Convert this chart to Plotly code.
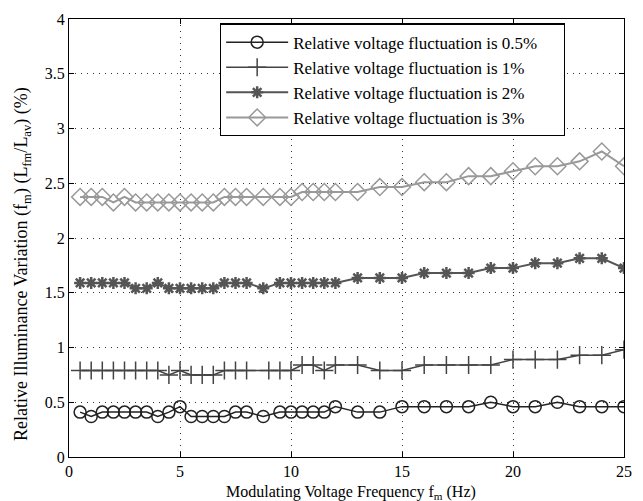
import plotly.graph_objects as go

# Modulating frequencies (Hz)
freq = [0.5, 1, 1.5, 2, 2.5, 3, 3.5, 4, 4.5, 5, 5.5, 6, 6.5, 7, 7.5, 8,
        8.75, 9.5, 10, 10.5, 11, 11.5, 12,
        13, 14, 15, 16, 17, 18, 19, 20, 21, 22, 23, 24, 25]
freq_1pct = [0.5, 1, 1.5, 2, 2.5, 3, 3.5, 4, 4.5, 5, 5.5, 6, 6.5, 7, 7.5, 8,
             9, 9.5, 10, 10.5, 11, 11.5, 12,
             13, 14, 15, 16, 17, 18, 19, 20, 21, 22, 23, 24, 25]

# Relative illuminance variation (%) per voltage fluctuation level
var_05 = [0.41, 0.37, 0.41, 0.41, 0.41, 0.41, 0.41, 0.37, 0.41, 0.46, 0.37, 0.37,
          0.37, 0.37, 0.41, 0.41, 0.37, 0.41, 0.41, 0.41, 0.41, 0.41, 0.46,
          0.41, 0.41, 0.46, 0.46, 0.46, 0.46, 0.50, 0.46, 0.46, 0.50, 0.46, 0.46, 0.46]
var_1 = [0.79, 0.79, 0.79, 0.79, 0.79, 0.79, 0.79, 0.79, 0.75, 0.79, 0.75, 0.75,
         0.75, 0.79, 0.79, 0.79, 0.79, 0.79, 0.79, 0.84, 0.84, 0.79, 0.84,
         0.84, 0.79, 0.79, 0.84, 0.84, 0.84, 0.84, 0.89, 0.89, 0.89, 0.93, 0.93, 0.98]
var_2 = [1.59, 1.59, 1.59, 1.59, 1.59, 1.54, 1.54, 1.59, 1.54, 1.54, 1.54, 1.54,
         1.54, 1.59, 1.59, 1.59, 1.54, 1.59, 1.59, 1.59, 1.59, 1.59, 1.59,
         1.635, 1.635, 1.635, 1.68, 1.68, 1.68, 1.725, 1.725, 1.77, 1.77, 1.815, 1.815, 1.725]
var_3 = [2.375, 2.375, 2.375, 2.325, 2.375, 2.325, 2.325, 2.325, 2.325, 2.325, 2.325, 2.325,
         2.325, 2.375, 2.375, 2.375, 2.375, 2.375, 2.375, 2.42, 2.42, 2.42, 2.42,
         2.42, 2.465, 2.465, 2.51, 2.51, 2.565, 2.565, 2.61, 2.655, 2.655, 2.70, 2.79, 2.655]

names = ["Relative voltage fluctuation is 0.5%",
         "Relative voltage fluctuation is 1%",
         "Relative voltage fluctuation is 2%",
         "Relative voltage fluctuation is 3%"]

SERIF = "Liberation Serif"
PAD = "\u00a0" * 5  # right-hand breathing room inside the legend box

fig = go.Figure()

fig.add_trace(go.Scatter(
    x=freq, y=var_05, name=names[0] + PAD, mode="lines+markers",
    line=dict(color="#222222", width=1.5),
    marker=dict(symbol="circle-open", size=12, color="#222222", line=dict(width=1.5))))
fig.add_trace(go.Scatter(
    x=freq_1pct, y=var_1, name=names[1], mode="lines+markers",
    line=dict(color="#444444", width=1.5),
    marker=dict(symbol="cross-thin-open", size=13, color="#444444", line=dict(width=1.5))))
fig.add_trace(go.Scatter(
    x=freq, y=var_2, name=names[2], mode="lines+markers",
    line=dict(color="#555555", width=2),
    marker=dict(symbol="asterisk-open", size=10, color="#555555", line=dict(width=2.5))))
fig.add_trace(go.Scatter(
    x=freq, y=var_3, name=names[3], mode="lines+markers",
    line=dict(color="#999999", width=2),
    marker=dict(symbol="diamond-open", size=13, color="#999999", line=dict(width=1.5))))

axis_common = dict(
    showline=True, linecolor="black", linewidth=1.2, mirror="ticks",
    ticks="inside", ticklen=5, tickcolor="black",
    showgrid=True, gridcolor="#333333", griddash="1px,5px", gridwidth=1.2,
    zeroline=False,
    tickfont=dict(family=SERIF, size=16, color="black"),
)

fig.update_xaxes(range=[0, 25], tickmode="linear", tick0=0, dtick=5, **axis_common)
fig.update_yaxes(range=[0, 4], tickmode="linear", tick0=0, dtick=0.5, **axis_common)

fig.update_layout(
    width=643, height=501,
    margin=dict(l=69, r=11, t=16, b=44),
    paper_bgcolor="white", plot_bgcolor="white",
    font=dict(family=SERIF, color="black"),
    showlegend=True,
    legend=dict(
        x=0.272, y=0.99, xanchor="left", yanchor="top",
        bgcolor="white", bordercolor="black", borderwidth=1.2,
        font=dict(family=SERIF, size=17, color="black"),
        itemwidth=62, tracegroupgap=0,
    ),
    annotations=[
        dict(text="Modulating Voltage Frequency f<sub>m</sub> (Hz)",
             xref="paper", yref="paper", x=0.5, xshift=4, y=0, yshift=-35,
             xanchor="center", yanchor="middle", showarrow=False,
             font=dict(family=SERIF, size=16, color="black")),
        dict(text="Relative Illuminance Variation (f<sub>m</sub>) (L<sub>fm</sub>/L<sub>av</sub>) (%)",
             xref="paper", yref="paper", x=0, xshift=-47, y=0.5, yshift=-26,
             xanchor="center", yanchor="middle", textangle=-90, showarrow=False,
             font=dict(family=SERIF, size=18, color="black")),
    ],
)

fig.write_html("out.html")
